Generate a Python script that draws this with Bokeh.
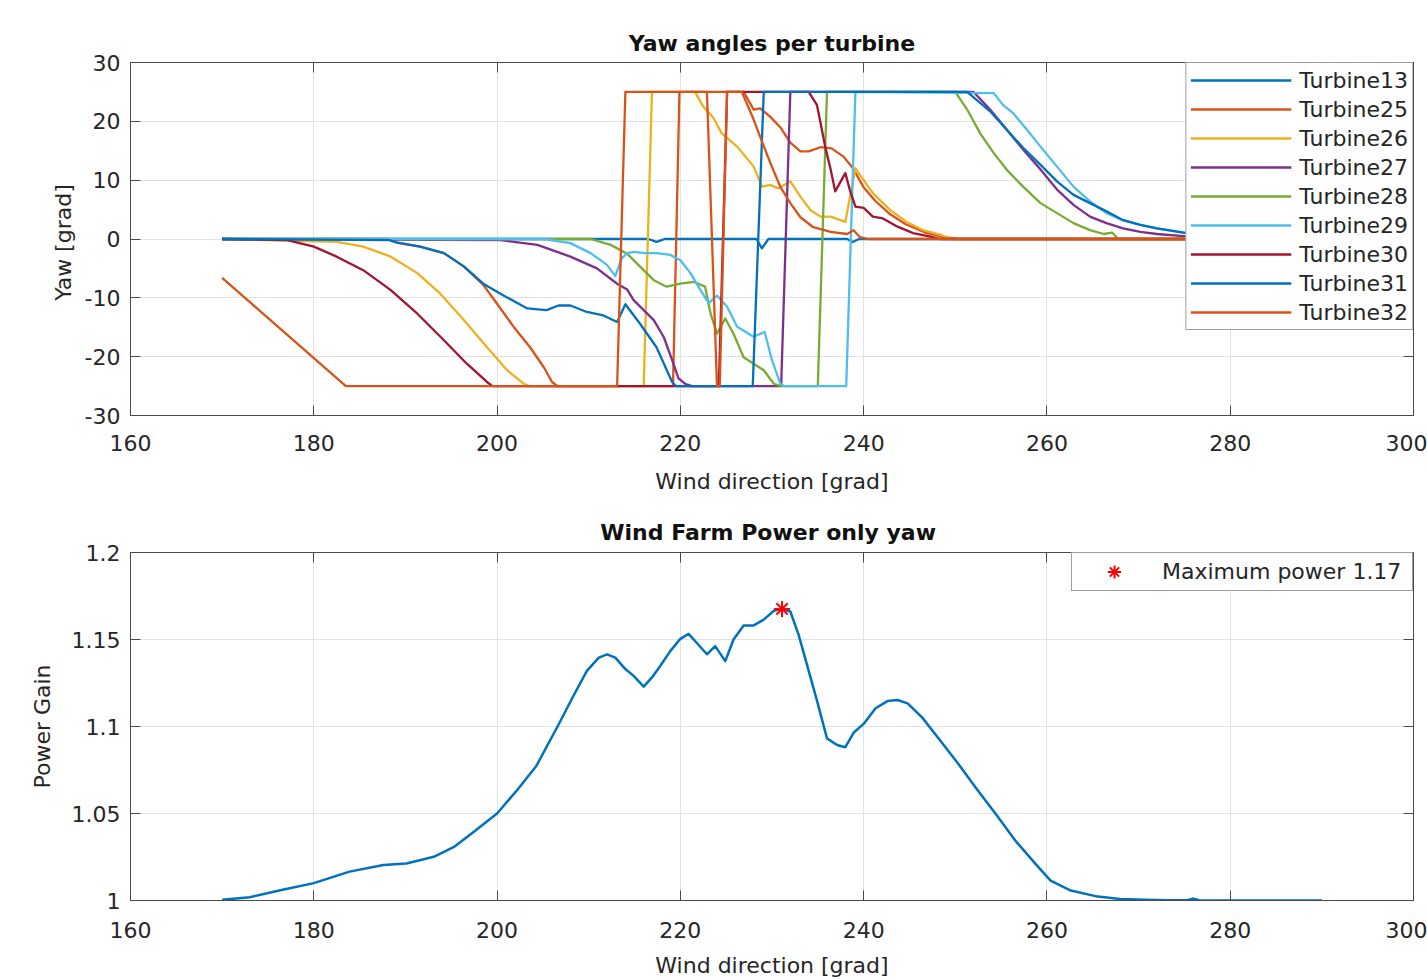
from bokeh.plotting import figure
from bokeh.models import (Legend, LegendItem, LinearAxis, FixedTicker,
                          CustomJSTickFormatter, Range1d)
from bokeh.layouts import column
from bokeh.embed import file_html
from bokeh.resources import INLINE

FONT = "DejaVu Sans"
INK = "#262626"
AXIS = "#4a4a4a"
GRID = "#e2e2e2"

# ---------------- data ----------------
x_ticks = [160, 180, 200, 220, 240, 260, 280, 300]
yaw_ticks = [-30, -20, -10, 0, 10, 20, 30]
power_ticks = [1, 1.05, 1.1, 1.15, 1.2]

turbine_names = ["Turbine13", "Turbine25", "Turbine26", "Turbine27", "Turbine28",
                 "Turbine29", "Turbine30", "Turbine31", "Turbine32"]
turbine_colors = ["#0072BD", "#D95319", "#EDB120", "#7E2F8E", "#77AC30",
                  "#4DBEEE", "#A2142F", "#0072BD", "#D95319"]

t13_x = [170, 216.5, 217.4, 218.3, 228.3, 228.9, 229.6, 238.2, 238.8, 239.5, 290]
t13_y = [0, 0, -0.5, 0, 0, -1.6, 0, 0, -0.5, 0, 0]

t25_x = [170, 188, 189.1, 191.6, 194.2, 196.4, 198.5, 200.0, 201.8, 203.6, 205.1, 206.0,
         206.6, 219.2, 219.9, 226.9, 228.0, 228.7, 229.8, 230.9, 232.0, 233.1, 234.0,
         235.3, 236.5, 237.8, 238.8, 240.0, 241.25, 242.9, 244.6, 246.7, 248.75, 250.4, 290]
t25_y = [0, 0, -0.6, -1.3, -2.4, -4.7, -7.8, -11.0, -14.9, -18.4, -21.8, -24.3,
         -25, -25, 25, 25, 22.0, 22.2, 20.8, 19.0, 16.4, 14.9, 14.9,
         15.6, 15.4, 14.0, 12.1, 8.8, 6.5, 4.2, 2.5, 1.1, 0.3, 0, 0]

t26_x = [170, 182.5, 185.4, 188.4, 191.3, 193.8, 196.4, 198.9, 201.1, 202.9, 203.5, 216.0,
         216.9, 221.6, 222.5, 223.6, 224.5, 226.2, 228.0, 228.9, 229.8, 230.7, 232.0,
         233.1, 234.2, 235.3, 236.4, 238.0, 239.1, 241.0, 242.9, 244.7, 246.5, 248.4,
         249.6, 290]
t26_y = [0, -0.5, -1.3, -3.0, -5.8, -9.3, -13.8, -18.4, -22.3, -24.6, -25, -25,
         25, 25, 22.5, 20.6, 18.0, 15.7, 12.3, 8.9, 9.2, 8.6, 9.8,
         7.2, 4.9, 3.8, 3.8, 2.9, 12.0, 7.8, 4.9, 2.9, 1.5, 0.7,
         0, 0]

t27_x = [170, 200.4, 204.4, 208.0, 210.9, 213.1, 214.2, 214.9, 216.0, 217.1, 218.2, 219.1,
         219.8, 220.5, 221.3, 231.0, 232.0, 252.0, 253.8, 255.6, 257.4, 259.3, 261.1,
         262.9, 264.7, 266.5, 268.3, 270.2, 272.0, 274.9, 278, 282, 290]
t27_y = [0, -0.2, -1.0, -3.0, -5.0, -7.6, -8.6, -10.4, -12.1, -13.8, -16.7, -20.6,
         -23.7, -24.6, -25, -25, 25, 25, 22.0, 18.6, 15.2, 11.8, 8.4,
         5.8, 3.8, 2.7, 1.8, 1.2, 0.85, 0.5, 0.2, 0.05, 0]

t28_x = [170, 210.2, 212.4, 214.2, 215.6, 217.1, 218.5, 220.0, 221.5, 222.7, 223.3, 224.0,
         224.9, 225.8, 226.9, 228.0, 229.1, 230.2, 231.0, 235.0, 236.0, 250.0, 251.3,
         252.7, 254.2, 255.6, 257.4, 259.3, 261.1, 262.9, 264.7, 266.2, 267.1, 267.8, 290]
t28_y = [0, 0, -1.0, -2.5, -4.7, -7.0, -8.1, -7.6, -7.3, -8.1, -12.7, -16.1,
         -13.5, -16.1, -20.1, -21.2, -22.3, -24.6, -25, -25, 25, 25, 22.0,
         18.0, 14.6, 11.8, 8.9, 6.1, 4.4, 2.7, 1.5, 0.85, 1.1, 0, 0]

t29_x = [170, 205.1, 208.0, 210.2, 212.0, 212.9, 213.6, 214.2, 214.9, 216.2, 217.4, 218.9,
         220.0, 221.1, 222.2, 223.1, 224.0, 225.1, 226.2, 228.0, 229.2, 230.0, 230.9,
         231.3, 238.1, 239.1, 254.2, 255.2, 256.3, 257.8, 259.3, 261.1, 262.9, 264.7,
         266.5, 268.3, 270.2, 272.0, 274.9, 278, 282, 290]
t29_y = [0, 0, -0.7, -2.4, -4.4, -6.3, -3.3, -2.4, -2.2, -2.4, -2.4, -2.7,
         -3.6, -5.8, -8.7, -10.9, -9.6, -11.5, -14.9, -16.6, -15.8, -20.6, -24.6,
         -25, -25, 25, 24.8, 22.8, 21.4, 18.6, 15.7, 12.3, 8.9, 6.4,
         4.4, 3.2, 2.4, 1.8, 1.1, 0.4, 0.1, 0]

t30_x = [170, 177.1, 180.0, 182.5, 185.4, 188.4, 191.3, 194.2, 196.7, 198.9, 199.5, 224.2,
         225.1, 234.0, 234.9, 235.3, 235.8, 236.4, 236.9, 238.0, 238.5, 239.1, 240.0,
         241.0, 242.1, 243.7, 245.4, 247.3, 248.3, 290]
t30_y = [0, -0.2, -1.3, -3.0, -5.3, -8.7, -12.7, -17.2, -21.2, -24.3, -25, -25,
         25, 25, 22.8, 19.7, 15.7, 11.8, 8.1, 11.2, 8.3, 5.5, 5.3,
         3.8, 3.5, 2.1, 1.0, 0.4, 0, 0]

t31_x = [170, 188.2, 189.1, 191.6, 194.2, 196.4, 198.5, 200.7, 203.3, 205.4, 206.7, 208.0,
         209.8, 211.6, 213.1, 214.0, 215.6, 217.4, 219.1, 219.5, 227.9, 229.1, 251.3,
         253.8, 255.6, 257.4, 259.3, 261.1, 262.9, 264.7, 266.5, 268.3, 270.2, 272.0,
         274.9, 278, 282, 290]
t31_y = [0, -0.2, -0.6, -1.3, -2.4, -4.7, -7.6, -9.6, -11.8, -12.1, -11.3, -11.3,
         -12.4, -13.0, -14.1, -11.1, -14.4, -18.4, -24.3, -25, -25, 25, 25,
         21.7, 18.6, 15.5, 12.6, 9.8, 7.5, 6.1, 4.7, 3.2, 2.4, 1.8,
         1.1, 0.4, 0.1, 0]

t32_x = [170, 183.5, 213.1, 214.0, 222.9, 224.0, 224.3, 225.1, 226.7, 228.0, 228.7, 229.8,
         230.9, 232.0, 233.1, 234.5, 236.4, 238.2, 238.9, 239.6, 240.5, 290]
t32_y = [-6.6, -25, -25, 25, 25, -25, -25, 25, 25, 20.3, 17.4, 13.0,
         8.9, 6.1, 3.7, 2.0, 1.2, 0.85, 1.5, 0.3, 0, 0]

turbine_x = [t13_x, t25_x, t26_x, t27_x, t28_x, t29_x, t30_x, t31_x, t32_x]
turbine_y = [t13_y, t25_y, t26_y, t27_y, t28_y, t29_y, t30_y, t31_y, t32_y]

power_x = [170, 173, 176.6, 180, 183.9, 187.6, 190.1, 193.1, 195.3, 197.4, 200, 202.2,
           204.3, 206.6, 208.35, 209.8, 211.1, 212.0, 212.9, 214.0, 214.9, 216.0, 216.9,
           217.8, 218.9, 220.0, 220.9, 221.8, 222.9, 223.8, 224.9, 225.8, 226.9, 228.0,
           229.1, 230.2, 231.1, 232.0, 232.9, 233.8, 234.9, 236.0, 237.1, 238.0, 238.9,
           240.0, 241.3, 242.6, 243.7, 244.8, 246.4, 248.5, 250.2, 252.3, 254.5, 256.6,
           258.8, 260.4, 262.6, 265.3, 268.0, 270.7, 273.4, 275.3, 275.9, 276.6, 280, 290]
power_y = [1.0004, 1.0019, 1.0062, 1.0100, 1.0166, 1.0204, 1.0213, 1.0251, 1.0308, 1.0392,
           1.0500, 1.0635, 1.0775, 1.1000, 1.1178, 1.1320, 1.1396, 1.1415, 1.1396, 1.1330,
           1.1291, 1.1229, 1.1282, 1.1348, 1.1433, 1.1504, 1.1532, 1.1480, 1.1415, 1.1462,
           1.1376, 1.1500, 1.1581, 1.1581, 1.1614, 1.1665, 1.1676, 1.1661, 1.1528, 1.1358,
           1.1150, 1.0932, 1.0894, 1.0881, 1.0964, 1.1015, 1.1105, 1.1146, 1.1152, 1.1133,
           1.1051, 1.0909, 1.0795, 1.0644, 1.0492, 1.0341, 1.0208, 1.0114, 1.0057, 1.0025,
           1.0009, 1.0004, 1.0002, 1.0002, 1.0011, 1.0002, 1.0, 1.0]

max_x = [231.1]
max_y = [1.1676]
max_label = "Maximum power 1.17"

PLAIN_FMT = "return String(Number(tick.toFixed(2)));"


# ---------------- helpers ----------------
def style(p, yticks, xlabel, ylabel, tick_standoff, xlab_standoff, ylab_standoff,
          title_standoff):
    p.background_fill_color = "white"
    p.border_fill_color = "white"
    p.outline_line_color = AXIS
    p.outline_line_width = 1
    p.xaxis.ticker = FixedTicker(ticks=x_ticks)
    p.yaxis.ticker = FixedTicker(ticks=yticks)
    p.xgrid.ticker = FixedTicker(ticks=x_ticks)
    p.ygrid.ticker = FixedTicker(ticks=yticks)
    p.grid.grid_line_color = GRID
    p.grid.grid_line_width = 1
    for ax in list(p.xaxis) + list(p.yaxis):
        ax.axis_line_color = AXIS
        ax.major_tick_line_color = AXIS
        ax.major_tick_in = 10
        ax.major_tick_out = 0
        ax.minor_tick_line_color = None
        ax.major_label_text_font = FONT
        ax.major_label_text_font_size = "22px"
        ax.major_label_text_color = INK
        ax.axis_label_text_font = FONT
        ax.axis_label_text_font_size = "22px"
        ax.axis_label_text_font_style = "normal"
        ax.axis_label_text_color = INK
        ax.formatter = CustomJSTickFormatter(code=PLAIN_FMT)
    p.xaxis.major_label_standoff = tick_standoff
    p.yaxis.major_label_standoff = 10
    p.xaxis.axis_label_standoff = xlab_standoff
    p.yaxis.axis_label_standoff = ylab_standoff
    p.xaxis.axis_label = xlabel
    p.yaxis.axis_label = ylabel
    for where, ticks in (("above", x_ticks), ("right", yticks)):
        ax = LinearAxis(ticker=FixedTicker(ticks=ticks),
                        axis_label=None,
                        major_label_text_font_size="0px",
                        major_label_text_color=None,
                        major_label_standoff=0,
                        major_tick_in=10, major_tick_out=0,
                        minor_tick_line_color=None,
                        axis_line_color=AXIS,
                        major_tick_line_color=AXIS)
        p.add_layout(ax, where)
    p.title.text_font = FONT
    p.title.text_font_size = "22px"
    p.title.text_font_style = "bold"
    p.title.text_color = "#111111"
    p.title.align = "center"
    p.title.standoff = title_standoff


# ---------------- top figure ----------------
p1 = figure(width=1427, height=503, output_backend="svg", toolbar_location=None,
            x_range=Range1d(160, 300), y_range=Range1d(-30, 30),
            title="Yaw angles per turbine",
            min_border_left=130, min_border_right=14,
            min_border_top=62, min_border_bottom=88)
style(p1, yaw_ticks, "Wind direction [grad]", "Yaw  [grad]", 19, 15, 6, 13)

items = []
for name, col, xs, ys in zip(turbine_names, turbine_colors, turbine_x, turbine_y):
    r = p1.line(xs, ys, line_color=col, line_width=2.3, line_join="round")
    items.append(LegendItem(label=name, renderers=[r]))

leg1 = Legend(items=items, location="top_right", margin=0, padding=4, spacing=3,
              label_height=26, glyph_height=26, glyph_width=101, label_standoff=8,
              label_text_font=FONT, label_text_font_size="22px", label_text_color=INK,
              border_line_color="#404040", border_line_width=1,
              background_fill_color="white", background_fill_alpha=1.0)
p1.add_layout(leg1)

# ---------------- bottom figure ----------------
p2 = figure(width=1427, height=477, output_backend="svg", toolbar_location=None,
            x_range=Range1d(160, 300), y_range=Range1d(1.0, 1.2),
            title="Wind Farm  Power only yaw",
            min_border_left=130, min_border_right=14,
            min_border_top=49, min_border_bottom=76)
style(p2, power_ticks, "Wind direction [grad]", "Power Gain", 21, 12, 14, 15)

p2.line(power_x, power_y, line_color="#0072BD", line_width=2.5, line_join="round")
star = p2.scatter(max_x, max_y, marker="asterisk", size=16, line_color="#FF0000",
                  line_width=2)

leg2 = Legend(items=[LegendItem(label=max_label, renderers=[star])],
              location="top_right", margin=0, padding=2, spacing=0,
              label_height=33, glyph_height=33, glyph_width=80, label_standoff=8,
              label_width=248,
              label_text_font=FONT, label_text_font_size="22px", label_text_color=INK,
              border_line_color="#404040", border_line_width=1,
              background_fill_color="white", background_fill_alpha=1.0)
p2.add_layout(leg2)

layout = column(p1, p2, spacing=0)
open("out.html", "w").write(file_html(layout, INLINE))
